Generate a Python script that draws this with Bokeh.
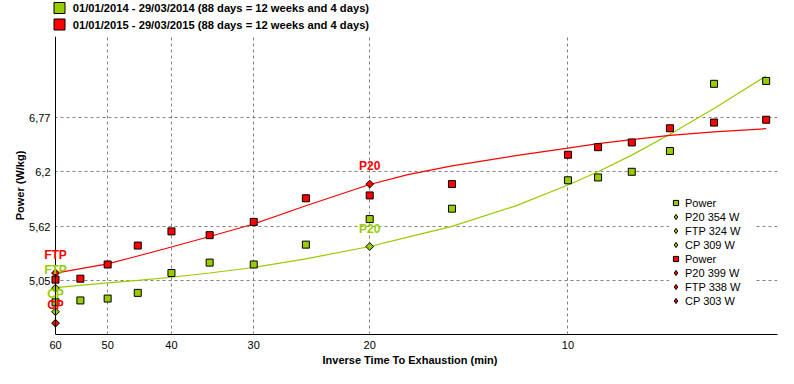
import numpy as np
from bokeh.plotting import figure
from bokeh.layouts import column
from bokeh.models import (Range1d, FixedTicker, NumeralTickFormatter, Legend, LegendItem,
                          ColumnDataSource, LabelSet, Span)
from bokeh.core.properties import value
from bokeh.embed import file_html
from bokeh.resources import INLINE

# ---------------- data ----------------
# durations in minutes
times = [60, 55, 50, 45, 40, 35, 30, 25, 20, 15, 10, 9, 8, 7, 6, 5]
power_2014 = [4.82, 4.84, 4.86, 4.92, 5.13, 5.24, 5.22, 5.43, 5.70, 5.81,
              6.11, 6.14, 6.20, 6.42, 7.13, 7.16]
power_2015 = [5.06, 5.07, 5.22, 5.42, 5.57, 5.53, 5.67, 5.92, 5.95, 6.07,
              6.38, 6.46, 6.51, 6.66, 6.72, 6.75]

# fitted curves
curve_times = [60, 50, 45, 40, 35, 30, 25, 20, 17.5, 15, 12, 10, 9, 8, 7, 6, 5]
curve_2014 = [4.975, 5.025, 5.052, 5.085, 5.13, 5.188, 5.28, 5.41, 5.51, 5.623,
              5.84, 6.06, 6.20, 6.376, 6.597, 6.87, 7.213]
curve_2015 = [5.128, 5.226, 5.31, 5.405, 5.516, 5.648, 5.841, 6.066, 6.17, 6.262,
              6.37, 6.45, 6.498, 6.539, 6.584, 6.622, 6.656]

marker_names = ["P20", "FTP", "CP"]
marker_times = [20, 60, 60]
markers_2014 = [5.41, 4.97, 4.72]
markers_2015 = [6.07, 5.13, 4.60]
watts_2014 = [354, 324, 309]
watts_2015 = [399, 338, 303]

series_labels = ["01/01/2014 - 29/03/2014 (88 days = 12 weeks and 4 days)",
                 "01/01/2015 - 29/03/2015 (88 days = 12 weeks and 4 days)"]
x_ticks = [60, 50, 40, 30, 20, 10]
y_ticks = [5.05, 5.62, 6.2, 6.77]
y_tick_labels = ["5,05", "5,62", "6,2", "6,77"]

GREEN = "#99CC00"
RED = "#FF0000"
FONT = "Liberation Sans"
series_colors = [GREEN, RED]

X_START, X_END = 62.79, 4.806
X_AXIS_AT = 60

# ---------------- top legend strip ----------------
top = figure(width=778, height=36, x_range=Range1d(0, 778), y_range=Range1d(36, 0),
             x_axis_location=None, y_axis_location=None, toolbar_location=None,
             output_backend="svg", min_border=0, outline_line_color=None,
             background_fill_color="white", border_fill_color="white")
top.grid.visible = False
n = len(series_labels)
row_y = [7.5 + 16.5 * i for i in range(n)]
top.rect(x=[18] * n, y=row_y, width=11, height=11, width_units="screen",
         height_units="screen", fill_color=series_colors, line_color="black", line_width=1)
top.text(x=[32] * n, y=row_y, text=series_labels, text_baseline="middle",
         text_align="left", text_color="black", text_font=value(FONT),
         text_font_size="11.2px", text_font_style="bold")

# ---------------- main figure ----------------
p = figure(width=778, height=332, x_axis_type="log",
           x_range=Range1d(X_START, X_END), y_range=Range1d(4.48, 7.63),
           output_backend="svg", toolbar_location=None,
           min_border_left=42, min_border_right=1, min_border_top=0, min_border_bottom=34,
           background_fill_color="white", border_fill_color="white",
           outline_line_color=None)

xa = p.xaxis[0]
ya = p.yaxis[0]
xa.ticker = FixedTicker(ticks=x_ticks)
xa.formatter = NumeralTickFormatter(format="0")
xa.bounds = (X_END, X_AXIS_AT)
ya.ticker = FixedTicker(ticks=y_ticks)
ya.major_label_overrides = dict(zip(y_ticks, y_tick_labels))
xa.axis_label = "Inverse Time To Exhaustion (min)"
ya.axis_label = "Power (W/kg)"
for ax in (xa, ya):
    ax.major_tick_line_color = None
    ax.minor_tick_line_color = None
    ax.major_tick_in = 0
    ax.major_tick_out = 0
    ax.axis_line_color = "black"
    ax.major_label_text_font = FONT
    ax.major_label_text_font_size = "11px"
    ax.major_label_text_color = "black"
    ax.axis_label_text_font = FONT
    ax.axis_label_text_font_size = "11px"
    ax.axis_label_text_font_style = "bold"
    ax.axis_label_text_color = "black"
xa.major_label_standoff = 6
xa.axis_label_standoff = 2
# the y axis line is drawn at t = 60 by a span; labels are pulled up to it
ya.axis_line_color = None
ya.major_label_standoff = -8
ya.axis_label_standoff = 0
p.add_layout(Span(location=X_AXIS_AT, dimension="height", line_color="black", line_width=1))

for g in (p.xgrid[0], p.ygrid[0]):
    g.grid_line_color = "#808080"
    g.grid_line_dash = "3 3"
    g.grid_line_width = 1
yg = p.ygrid[0]
if "cross_bounds" in yg.properties():
    yg.cross_bounds = (X_END, X_AXIS_AT)

# ---------------- glyphs ----------------
p.line(curve_times, curve_2014, line_color=GREEN, line_width=1.2)
p.line(curve_times, curve_2015, line_color=RED, line_width=1.2)

g_sq = p.scatter(times, power_2014, marker="square", size=7, fill_color=GREEN,
                 line_color="black", line_width=1)
r_sq = p.scatter(times, power_2015, marker="square", size=7, fill_color=RED,
                 line_color="black", line_width=1)

p.scatter(marker_times, markers_2014, marker="square", angle=np.pi / 4, size=5.5,
          fill_color=GREEN, line_color="black", line_width=1)
p.scatter(marker_times, markers_2015, marker="square", angle=np.pi / 4, size=5.5,
          fill_color=RED, line_color="black", line_width=1)

# hidden diamond renderers, only used for the legend swatches
g_dia = p.scatter(marker_times, markers_2014, marker="diamond", fill_color=GREEN,
                  line_color="black", line_width=1, visible=False)
r_dia = p.scatter(marker_times, markers_2015, marker="diamond", fill_color=RED,
                  line_color="black", line_width=1, visible=False)

# point labels
for vals, col in ((markers_2014, GREEN), (markers_2015, RED)):
    src = ColumnDataSource(dict(t=marker_times, v=vals, name=marker_names))
    p.add_layout(LabelSet(x="t", y="v", text="name", source=src, y_offset=18,
                          text_align="center", text_baseline="middle", text_color=col,
                          text_font=value(FONT), text_font_size="12px",
                          text_font_style="bold"))

# ---------------- legend ----------------
right_items = [LegendItem(label="Power", renderers=[g_sq], index=0)]
for i, (nm, w) in enumerate(zip(marker_names, watts_2014)):
    right_items.append(LegendItem(label=f"{nm} {w} W", renderers=[g_dia], index=i))
right_items.append(LegendItem(label="Power", renderers=[r_sq], index=0))
for i, (nm, w) in enumerate(zip(marker_names, watts_2015)):
    right_items.append(LegendItem(label=f"{nm} {w} W", renderers=[r_dia], index=i))

right_leg = Legend(items=right_items, location=(627, 27), orientation="vertical",
                   glyph_width=13, glyph_height=13, label_height=13, label_width=70,
                   spacing=1, padding=4, margin=0, label_standoff=3,
                   border_line_color=None, background_fill_color="white",
                   background_fill_alpha=1.0, inactive_fill_alpha=0.0,
                   label_text_font=FONT, label_text_font_size="11px",
                   label_text_color="black", label_text_baseline="middle")
p.add_layout(right_leg)

layout = column(top, p, spacing=0)
open("out.html", "w").write(file_html(layout, INLINE))
